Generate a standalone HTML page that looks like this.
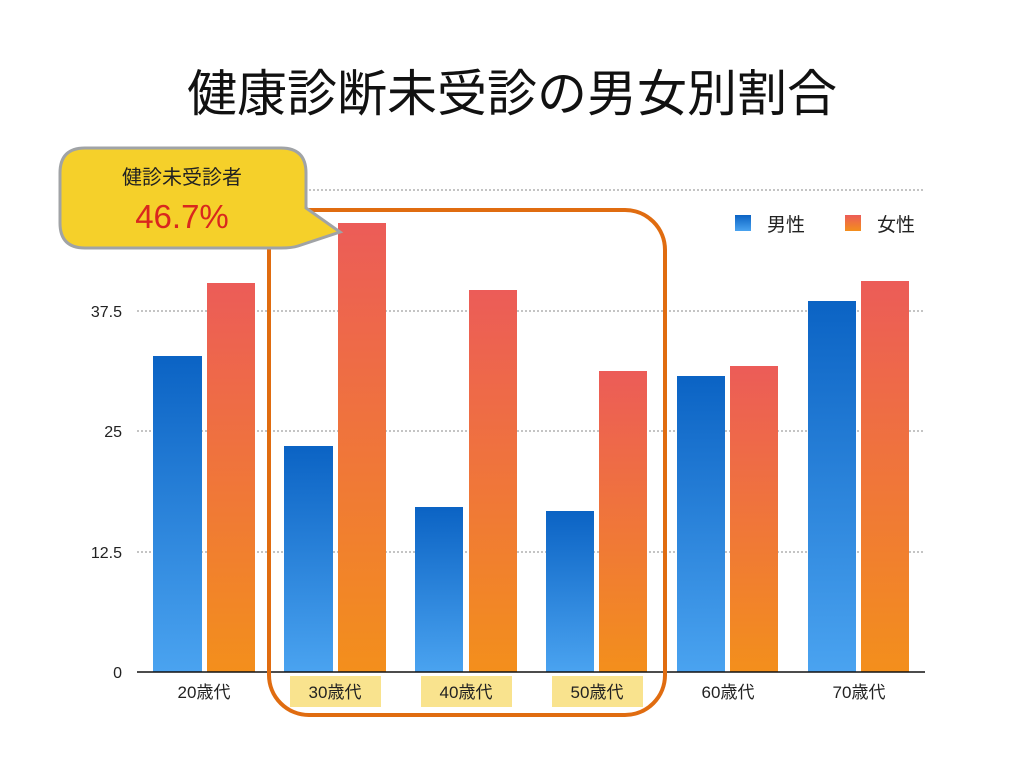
<!DOCTYPE html>
<html><head><meta charset="utf-8"><style>
html,body{margin:0;padding:0;background:#fff;}
svg{display:block;font-family:"Liberation Sans","Noto Sans CJK JP",sans-serif;}
</style></head><body>
<svg width="1024" height="768" viewBox="0 0 1024 768" xmlns="http://www.w3.org/2000/svg">
<defs>
<linearGradient id="gb" x1="0" y1="0" x2="0" y2="1"><stop offset="0" stop-color="#0b63c4"/><stop offset="1" stop-color="#4aa3f0"/></linearGradient>
<linearGradient id="go" x1="0" y1="0" x2="0" y2="1"><stop offset="0" stop-color="#ec5c58"/><stop offset="1" stop-color="#f38f1c"/></linearGradient>
</defs>
<text x="512" y="111" font-size="50" text-anchor="middle" fill="#111">健康診断未受診の男女別割合</text>
<g stroke="#888" stroke-width="1" stroke-dasharray="2,2">
<line x1="137" y1="190" x2="925" y2="190"/><line x1="137" y1="311" x2="925" y2="311"/>
<line x1="137" y1="431" x2="925" y2="431"/><line x1="137" y1="552" x2="925" y2="552"/>
</g>
<g font-size="16" fill="#222" text-anchor="end">
<text x="122" y="317">37.5</text><text x="122" y="437">25</text><text x="122" y="558">12.5</text><text x="122" y="678">0</text>
</g>
<g>
<rect x="153" y="356" width="49" height="316" fill="url(#gb)"/><rect x="207" y="283" width="48" height="389" fill="url(#go)"/>
<rect x="284" y="446" width="49" height="226" fill="url(#gb)"/><rect x="338" y="223" width="48" height="449" fill="url(#go)"/>
<rect x="415" y="507" width="48" height="165" fill="url(#gb)"/><rect x="469" y="290" width="48" height="382" fill="url(#go)"/>
<rect x="546" y="511" width="48" height="161" fill="url(#gb)"/><rect x="599" y="371" width="48" height="301" fill="url(#go)"/>
<rect x="677" y="376" width="48" height="296" fill="url(#gb)"/><rect x="730" y="366" width="48" height="306" fill="url(#go)"/>
<rect x="808" y="301" width="48" height="371" fill="url(#gb)"/><rect x="861" y="281" width="48" height="391" fill="url(#go)"/>
</g>
<line x1="137" y1="672" x2="925" y2="672" stroke="#111" stroke-width="1.5"/>
<g fill="#f9e38e"><rect x="290" y="676" width="91" height="31"/><rect x="421" y="676" width="91" height="31"/><rect x="552" y="676" width="91" height="31"/></g>
<g font-size="17" fill="#222" text-anchor="middle">
<text x="204" y="698">20歳代</text><text x="335" y="698">30歳代</text><text x="466" y="698">40歳代</text>
<text x="597" y="698">50歳代</text><text x="728" y="698">60歳代</text><text x="859" y="698">70歳代</text>
</g>
<rect x="269" y="210" width="396" height="505" rx="40" fill="none" stroke="#e06c10" stroke-width="4"/>
<rect x="735" y="215" width="16" height="16" fill="url(#gb)"/><text x="767" y="231" font-size="19" fill="#222">男性</text>
<rect x="845" y="215" width="16" height="16" fill="url(#go)"/><text x="877" y="231" font-size="19" fill="#222">女性</text>
<path d="M85,148 H281 Q306,148 306,173 V208 L340,232 L298,246 Q292,248 281,248 H85 Q60,248 60,223 V173 Q60,148 85,148 Z" fill="#f5d02a" stroke="#a0a3a6" stroke-width="3"/>
<text x="182" y="184" font-size="20" fill="#222" text-anchor="middle">健診未受診者</text>
<text x="182" y="228" font-size="33" fill="#d9271e" text-anchor="middle">46.7%</text>
</svg>
</body></html>
